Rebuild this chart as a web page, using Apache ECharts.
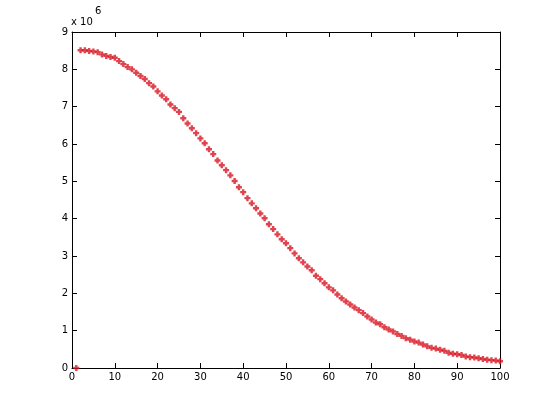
<!DOCTYPE html>
<html>
<head>
<meta charset="utf-8">
<script src="https://cdn.jsdelivr.net/npm/echarts@6/dist/echarts.min.js"></script>
<style>
  html, body { margin: 0; padding: 0; background: #fff; }
  #chart { width: 553px; height: 414px; }
</style>
</head>
<body>
<div id="chart"></div>
<script>
// x positions 1..100 and values (units of 1e6)
const xValues = [
  1, 2, 3, 4, 5, 6, 7, 8, 9, 10,
  11, 12, 13, 14, 15, 16, 17, 18, 19, 20,
  21, 22, 23, 24, 25, 26, 27, 28, 29, 30,
  31, 32, 33, 34, 35, 36, 37, 38, 39, 40,
  41, 42, 43, 44, 45, 46, 47, 48, 49, 50,
  51, 52, 53, 54, 55, 56, 57, 58, 59, 60,
  61, 62, 63, 64, 65, 66, 67, 68, 69, 70,
  71, 72, 73, 74, 75, 76, 77, 78, 79, 80,
  81, 82, 83, 84, 85, 86, 87, 88, 89, 90,
  91, 92, 93, 94, 95, 96, 97, 98, 99, 100
];
const yMillions = [
  0.00, 8.51, 8.51, 8.49, 8.48, 8.46, 8.40, 8.36, 8.33, 8.31,
  8.22, 8.14, 8.06, 8.00, 7.91, 7.82, 7.74, 7.63, 7.54, 7.41,
  7.30, 7.20, 7.06, 6.96, 6.86, 6.69, 6.55, 6.42, 6.29, 6.15,
  6.02, 5.86, 5.73, 5.56, 5.43, 5.30, 5.16, 5.01, 4.84, 4.71,
  4.55, 4.41, 4.28, 4.14, 4.01, 3.85, 3.72, 3.58, 3.45, 3.34,
  3.21, 3.07, 2.94, 2.83, 2.72, 2.62, 2.47, 2.38, 2.27, 2.16,
  2.08, 1.97, 1.87, 1.78, 1.70, 1.62, 1.55, 1.47, 1.38, 1.30,
  1.22, 1.17, 1.09, 1.03, 0.98, 0.91, 0.86, 0.80, 0.76, 0.71,
  0.68, 0.63, 0.58, 0.54, 0.52, 0.49, 0.46, 0.41, 0.38, 0.37,
  0.35, 0.31, 0.29, 0.28, 0.26, 0.24, 0.22, 0.21, 0.20, 0.18
];
const xTicks = [0, 10, 20, 30, 40, 50, 60, 70, 80, 90, 100];
const yTicks = [0, 1, 2, 3, 4, 5, 6, 7, 8, 9];

const points = xValues.map((x, i) => [x, yMillions[i] * 1e6]);

const chart = echarts.init(document.getElementById('chart'));

const labelFont = { color: '#000', fontSize: 10, fontFamily: 'DejaVu Sans' };
const axisLine = { show: true, onZero: false, lineStyle: { color: '#000', width: 1 } };
const tick = { show: true, inside: true, length: 5, lineStyle: { color: '#000' } };

const option = {
  animation: false,
  backgroundColor: '#fff',
  grid: { left: 72, top: 32, right: 53, bottom: 46, containLabel: false },
  xAxis: [
    {
      type: 'value', position: 'bottom', min: 0, max: 100, interval: 10,
      axisLine: axisLine, axisTick: tick, splitLine: { show: false },
      axisLabel: Object.assign({ margin: 4 }, labelFont)
    },
    {
      type: 'value', position: 'top', min: 0, max: 100, interval: 10,
      axisLine: axisLine, axisTick: tick, splitLine: { show: false },
      axisLabel: { show: false }
    }
  ],
  yAxis: [
    {
      type: 'value', position: 'left', min: 0, max: 9e6, interval: 1e6,
      axisLine: axisLine, axisTick: tick, splitLine: { show: false },
      axisLabel: Object.assign({ margin: 4, formatter: v => String(Math.round(v / 1e6)) }, labelFont)
    },
    {
      type: 'value', position: 'right', min: 0, max: 9e6, interval: 1e6,
      axisLine: axisLine, axisTick: tick, splitLine: { show: false },
      axisLabel: { show: false }
    }
  ],
  graphic: [
    { type: 'text', left: 71, top: 17, style: { text: 'x 10', fontSize: 10, fontFamily: 'DejaVu Sans', fill: '#000' } },
    { type: 'text', left: 95, top: 6, style: { text: '6', fontSize: 10, fontFamily: 'DejaVu Sans', fill: '#000' } }
  ],
  series: [{
    type: 'scatter',
    data: points,
    symbol: 'path://M3,0 H7 V3 H10 V7 H7 V10 H3 V7 H0 V3 H3 Z',
    symbolSize: 6,
    itemStyle: { color: '#d81420' }
  }]
};

chart.setOption(option);
</script>
</body>
</html>
